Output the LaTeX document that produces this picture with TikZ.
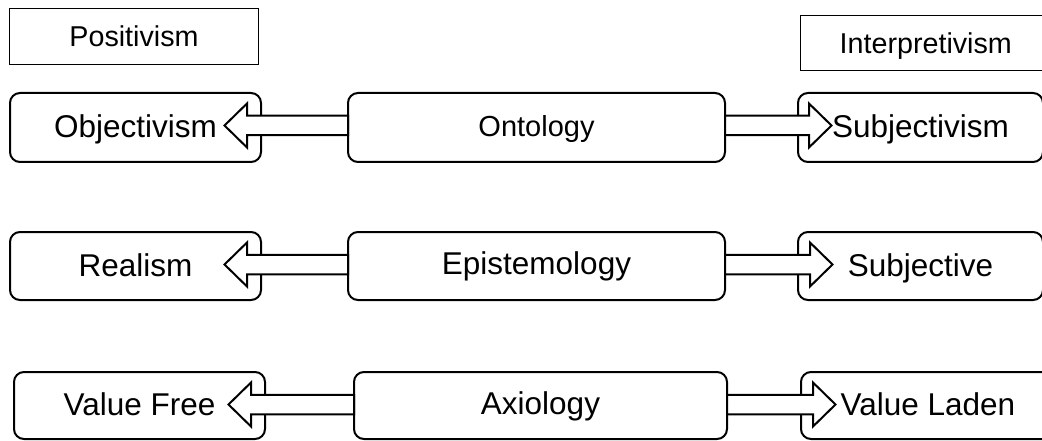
\documentclass[tikz,border=0pt]{standalone}
\usepackage{fontspec}
\setmainfont{Liberation Sans}
\usetikzlibrary{calc}

% Hollow block arrow from a middle box towards a tip on its left / right
\newcommand{\arrowtoleft}[2]{%
  \draw[blk] (#2) -- ($(#2)+(22.5,-22)$) -- ($(#2)+(22.5,-9.75)$)
    -- ($(#1.west |- #2)+(0,-9.75)$) -- ($(#1.west |- #2)+(0,9.75)$)
    -- ($(#2)+(22.5,9.75)$) -- ($(#2)+(22.5,22)$) -- cycle;}
\newcommand{\arrowtoright}[2]{%
  \draw[blk] (#2) -- ($(#2)+(-22.5,-22)$) -- ($(#2)+(-22.5,-9.75)$)
    -- ($(#1.east |- #2)+(0,-9.75)$) -- ($(#1.east |- #2)+(0,9.75)$)
    -- ($(#2)+(-22.5,9.75)$) -- ($(#2)+(-22.5,22)$) -- cycle;}

\begin{document}
\begin{tikzpicture}[x=1pt,y=-1pt,
  frame/.style={draw=black, line width=1pt, inner sep=0pt, outer sep=0pt,
    font=\fontsize{28.7}{34}\selectfont, text height=20.5pt, text depth=0pt},
  termbox/.style={draw=black, line width=2pt, rounded corners=10pt,
    inner sep=0pt, outer sep=0pt,
    font=\fontsize{31.5}{38}\selectfont, text height=22.5pt, text depth=2pt},
  raised/.style={text depth=5pt},
  blk/.style={draw=black, line width=2pt, fill=white, line join=miter}]
\useasboundingbox (0,0) rectangle (1042,441);
\clip (0,0) rectangle (1042,441);

% paradigm headings
\node[frame, minimum width=249pt, minimum height=56pt] (pos) at (134,36.5) {Positivism};
\node[frame, minimum width=250.5pt, minimum height=55.5pt] (interp) at (925.75,43.25) {Interpretivism};

% ontology row
\node[termbox, minimum width=251pt, minimum height=69pt] (obj) at (135.5,127.5) {Objectivism};
\node[termbox, raised, font=\fontsize{29}{35}\selectfont, minimum width=377pt, minimum height=69pt] (ont) at (536.5,127.5) {Ontology};
\node[termbox, minimum width=245pt, minimum height=69pt] (subjm) at (920.5,127.5) {Subjectivism};

% epistemology row
\node[termbox, minimum width=251pt, minimum height=68pt] (real) at (135.5,266) {Realism};
\node[termbox, raised, minimum width=377pt, minimum height=68pt] (epi) at (536.5,266) {Epistemology};
\node[termbox, minimum width=245pt, minimum height=68pt] (subjv) at (920.5,266) {Subjective};

% axiology row
\node[termbox, minimum width=251pt, minimum height=67pt] (vf) at (139.5,405.5) {Value Free};
\node[termbox, raised, minimum width=373pt, minimum height=67pt] (ax) at (540.5,405.5) {Axiology};
\node[termbox, minimum width=254pt, minimum height=67pt] (vl) at (928,405.5) {Value Laden};

% arrow tips
\coordinate (objtip) at (224.5,125.5);
\coordinate (subjmtip) at (831.5,125.5);
\coordinate (realtip) at (224.5,264.5);
\coordinate (subjvtip) at (832.5,264.5);
\coordinate (vftip) at (228.5,404.5);
\coordinate (vltip) at (835.5,404.5);

\arrowtoleft{ont}{objtip}
\arrowtoright{ont}{subjmtip}
\arrowtoleft{epi}{realtip}
\arrowtoright{epi}{subjvtip}
\arrowtoleft{ax}{vftip}
\arrowtoright{ax}{vltip}
\end{tikzpicture}
\end{document}
